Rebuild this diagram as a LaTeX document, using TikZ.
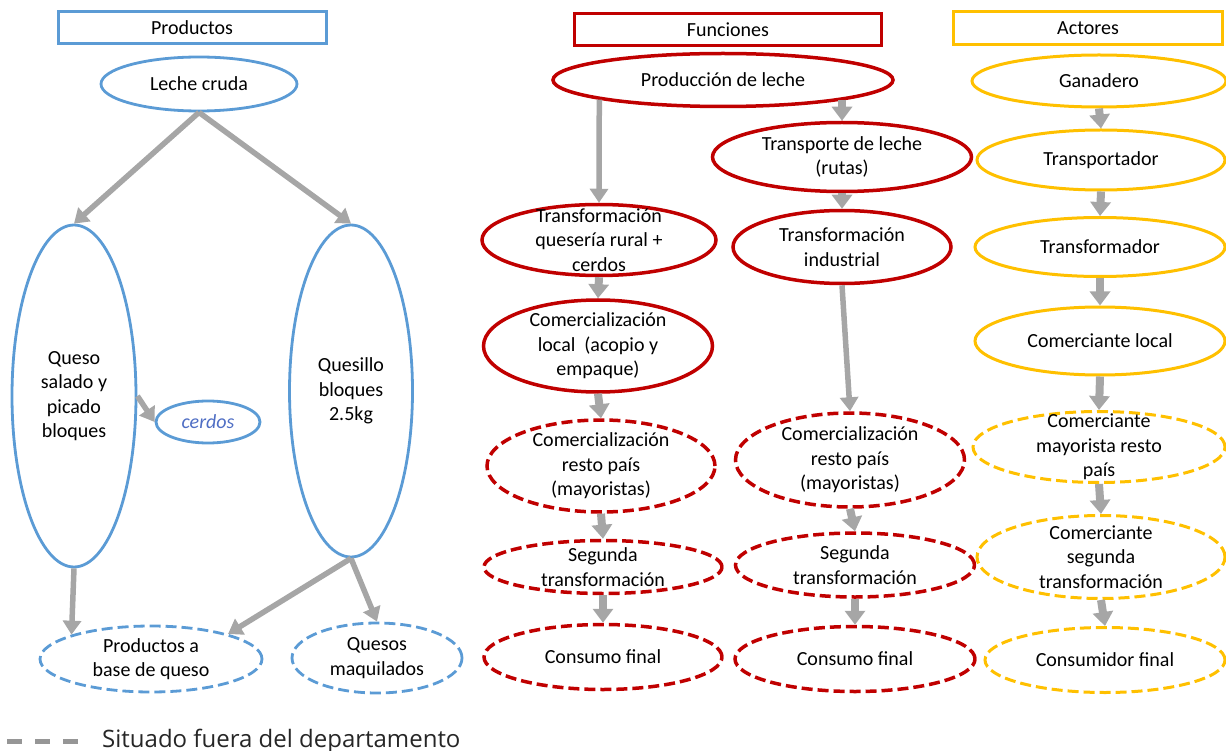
\documentclass[tikz,border=0pt]{standalone}
\usepackage{fontspec}
\setmainfont{Carlito}
\newfontfamily\legendfont{Open Sans}
\usetikzlibrary{shapes.geometric,arrows.meta}
\definecolor{pblue}{RGB}{91,155,213}
\definecolor{fred}{RGB}{192,0,0}
\definecolor{ayel}{RGB}{255,192,0}
\definecolor{agray}{RGB}{166,166,166}
\definecolor{cblue}{RGB}{79,110,196}
\definecolor{lgray}{RGB}{150,150,150}
\begin{document}
\begin{tikzpicture}[x=1pt,y=-1pt,
  font=\fontsize{20}{24.5}\selectfont,
  hdr/.style={draw, line width=3pt, minimum height=32, inner sep=0pt, text=black},
  ov/.style={ellipse, draw, inner sep=0pt},
  lab/.style={align=center, inner sep=0pt, text=black},
  dsh/.style={dash pattern=on 11pt off 5pt},
  pb/.style={ov, draw=pblue, line width=2.8pt},
  fr/.style={ov, draw=fred, line width=3.5pt},
  ay/.style={ov, draw=ayel, line width=3pt},
  arr/.style={draw=agray, color=agray, line width=5.5pt, -{Triangle[width=18pt,length=14pt]}},
  sarr/.style={draw=agray, color=agray, line width=8pt, -{Triangle[width=20pt,length=14pt]}}
]
\useasboundingbox (0,0) rectangle (1226,751);

% headers
\node[hdr, draw=pblue, minimum width=268] (hP) at (192,28) {Productos};
\node[hdr, draw=fred, minimum width=307] (hF) at (728,30) {Funciones};
\node[hdr, draw=ayel, minimum width=269, minimum height=33] (hA) at (1088,28) {Actores};

% Productos
\node[pb, minimum width=196, minimum height=54, label={[lab]center:Leche cruda}] (leche) at (199,84) {};
\node[pb, minimum width=124, minimum height=342, label={[lab]center:Queso\\salado y\\picado\\bloques}] (qs) at (74,396) {};
\node[pb, minimum width=123, minimum height=332, label={[lab]center:Quesillo\\bloques\\2.5kg}] (qb) at (351,391) {};
\node[pb, minimum width=104, minimum height=42, label={[lab, text=cblue, font=\fontsize{20}{24.5}\selectfont\itshape]center:cerdos}] (cerdos) at (208,422) {};
\node[pb, dsh, minimum width=222, minimum height=66, label={[lab]center:Productos a\\base de queso}] (pab) at (151,659) {};
\node[pb, dsh, minimum width=170, minimum height=70, label={[lab]center:Quesos\\maquilados}] (qm) at (377,658) {};

% Funciones
\node[fr, minimum width=340, minimum height=53, label={[lab]center:Producción de leche}] (prod) at (723,80) {};
\node[fr, minimum width=259, minimum height=69, label={[lab]center:Transporte de leche\\(rutas)}] (trans) at (842,157) {};
\node[fr, minimum width=234, minimum height=71, label={[lab]center:Transformación\\quesería rural +\\cerdos}] (tq) at (599,240) {};
\node[fr, minimum width=218, minimum height=73, label={[lab]center:Transformación\\industrial}] (ti) at (842,247) {};
\node[fr, minimum width=229, minimum height=92, label={[lab]center:Comercialización\\local\ \ (acopio y\\empaque)}] (cl) at (598,346) {};
\node[fr, dsh, minimum width=228, minimum height=92, label={[lab]center:Comercialización\\resto país\\(mayoristas)}] (cr1) at (601,466) {};
\node[fr, dsh, minimum width=238, minimum height=53, label={[lab]center:Segunda\\transformación}] (st1) at (603,567) {};
\node[fr, dsh, minimum width=238, minimum height=65, label={[lab]center:Consumo final}] (cf1) at (603,657) {};
\node[fr, dsh, minimum width=229, minimum height=94, label={[lab]center:Comercialización\\resto país\\(mayoristas)}] (cr2) at (850,460) {};
\node[fr, dsh, minimum width=239, minimum height=64, label={[lab]center:Segunda\\transformación}] (st2) at (855,565) {};
\node[fr, dsh, minimum width=240, minimum height=65, label={[lab]center:Consumo final}] (cf2) at (855,659) {};

% Actores
\node[ay, minimum width=254, minimum height=52, label={[lab]center:Ganadero}] (gan) at (1099,81) {};
\node[ay, minimum width=248, minimum height=60, label={[lab]center:Transportador}] (tra) at (1101,160) {};
\node[ay, minimum width=250, minimum height=59, label={[lab]center:Transformador}] (tfo) at (1100,247) {};
\node[ay, minimum width=250, minimum height=68, label={[lab]center:Comerciante local}] (cloc) at (1100,341) {};
\node[ay, dsh, minimum width=252, minimum height=71, label={[lab]center:Comerciante\\mayorista resto\\país}] (cmay) at (1099,447) {};
\node[ay, dsh, minimum width=248, minimum height=83, label={[lab]center:Comerciante\\segunda\\transformación}] (cseg) at (1101,557) {};
\node[ay, dsh, minimum width=240, minimum height=65, label={[lab]center:Consumidor final}] (cfin) at (1105,660) {};

% arrows Productos
\draw[arr] (leche.south) -- (qs.north);
\draw[arr] (leche.south) -- (qb.north);
\draw[arr] (qs.east) -- (cerdos.west);
\draw[arr] (qs.south) -- (pab.163);
\draw[arr] (qb.south) -- (pab.18);
\draw[arr] (qb.south) -- (qm.north);

% arrows Funciones
\draw[arr] (prod.189) -- (tq.north);
\draw[sarr] (prod.351 -| trans.north) -- (trans.north);
\draw[sarr] (trans.south) -- (ti.north);
\draw[arr] (ti.south) -- (cr2.north);
\draw[sarr] (tq.south) -- (cl.north);
\draw[sarr] (cl.south) -- (cr1.north);
\draw[sarr] (cr1.south) -- (st1.north);
\draw[sarr] (st1.south) -- (cf1.north);
\draw[sarr] (cr2.south) -- (st2.north);
\draw[sarr] (st2.south) -- (cf2.north);

% arrows Actores
\draw[sarr] (gan.south) -- (tra.north);
\draw[sarr] (tra.south) -- (tfo.north);
\draw[sarr] (tfo.south) -- (cloc.north);
\draw[sarr] (cloc.south) -- (cmay.north);
\draw[sarr] (cmay.south) -- (cseg.north);
\draw[sarr] (cseg.south) -- (cfin.north);

% legend
\coordinate (l1) at (7,741);
\coordinate (l2) at (78,741);
\draw[lgray, line width=5pt, dash pattern=on 15pt off 13pt] (l1) -- (l2);
\node[anchor=base west, inner sep=0pt, text=black!85, font=\legendfont\fontsize{24}{28}\selectfont] (leg) at (102,747) {Situado fuera del departamento};
\end{tikzpicture}
\end{document}
